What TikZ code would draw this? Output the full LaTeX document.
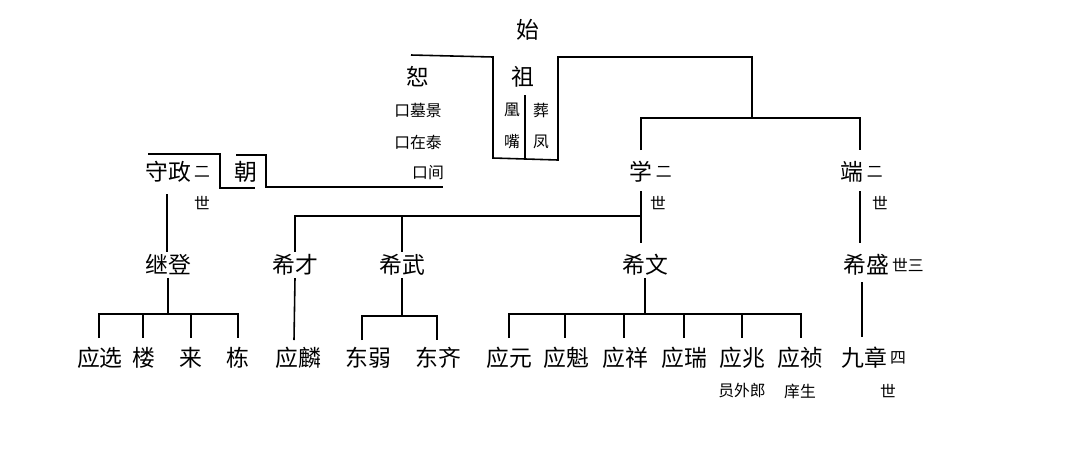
\documentclass[tikz,border=0pt]{standalone}
\usepackage{fontspec}
\setmainfont{Noto Sans CJK SC}
\usetikzlibrary{positioning}

\begin{document}
\begin{tikzpicture}[
  x=0.02cm, y=-0.02cm,
  line width=0.9pt,
  person/.style = {inner sep=1pt, font=\fontsize{13}{14}\selectfont},
  note/.style = {inner sep=1pt, font=\fontsize{9}{10}\selectfont}
  ]
	\useasboundingbox (0,0) rectangle (1080,451);

	% top
	\node[person] (shi) at (528,30) {始};
	\node[person] (shu) at (418,77) {恕};
	\node[note] (shu1) at (418,110) {口墓景};
	\node[note] (shu2) at (418,142) {口在泰};
	\node[note] (shu3) at (428,173) {口间};
	\node[person] (zu) at (523,77) {祖};
	\node[note] (zu1) at (512,110) {凰};
	\node[note] (zu2) at (512,142) {嘴};
	\node[note] (zu3) at (541,110) {葬};
	\node[note] (zu4) at (541,142) {凤};

	\draw (411,55) -- (493,57) -- (493,158) -- (558,160) -- (558,57) -| (752,118);
	\draw (525,95) -- (525,160);

	% second generation
	\node[person] (shouzheng) at (168,172) {守政};
	\node[note, right=-1pt of shouzheng] {二};
	\node[note] at (202,203) {世};
	\node[person] (chao) at (246,172) {朝};
	\node[person] (xue) at (641,172) {学};
	\node[note, right=-1pt of xue] {二};
	\node[note] at (658,203) {世};
	\node[person] (duan) at (852,172) {端};
	\node[note, right=-1pt of duan] {二};
	\node[note] at (880,203) {世};

	\draw (148,154) -- (220,154) -- (220,188) -- (255,188);
	\draw (236,155) -- (266,155) |- (443,187);
	\draw (641,150) |- (860,118) -- (860,150);

	% third generation
	\node[person] (jideng) at (168,265) {继登};
	\node[person] (xicai) at (295,265) {希才};
	\node[person] (xiwu) at (402,265) {希武};
	\node[person] (xiwen) at (645,265) {希文};
	\node[person] (xisheng) at (866,265) {希盛};
	\node[note, right=-1pt of xisheng] {世三};

	\draw (167,194) -- (jideng.north -| 167,0);
	\draw (641,191) -- (641,216) -| (xicai.north);
	\draw (402,216) -- (xiwu.north);
	\draw (641,216) -- (641,243);
	\draw (860,191) -- (860,243);

	% fourth generation
	\foreach \nm/\tx/\xx in {yxuan/应选/100, lou/楼/144, lai/来/191, dong/栋/238,
	  ylin/应麟/298, dongruo/东弱/368, dongqi/东齐/438,
	  yyuan/应元/509, ykui/应魁/566, yxiang/应祥/625, yrui/应瑞/684,
	  yzhao/应兆/742, yzhen/应祯/800, jiuzhang/九章/864}
	  \node[person] (\nm) at (\xx,358) {\tx};
	\node[note, right=-1pt of jiuzhang] {四};
	\node[note] at (742,391) {员外郎};
	\node[note] at (800,391) {庠生};
	\node[note] at (888,391) {世};

	\draw (jideng.south) -- (168,314);
	\draw (99,338) |- (238,314) -- (238,338);
	\foreach \xx in {143,191} \draw (\xx,314) -- (\xx,338);
	\draw (xicai.south) -- (294,340);
	\draw (xiwu.south) -- (402,316);
	\draw (362,340) |- (437,316) -- (437,340);
	\draw (xiwen.south) -- (645,314);
	\draw (509,338) |- (801,314) -- (801,338);
	\foreach \xx in {565,624,684,742} \draw (\xx,314) -- (\xx,338);
	\draw (862,282) -- (862,337);

\end{tikzpicture}
\end{document}
